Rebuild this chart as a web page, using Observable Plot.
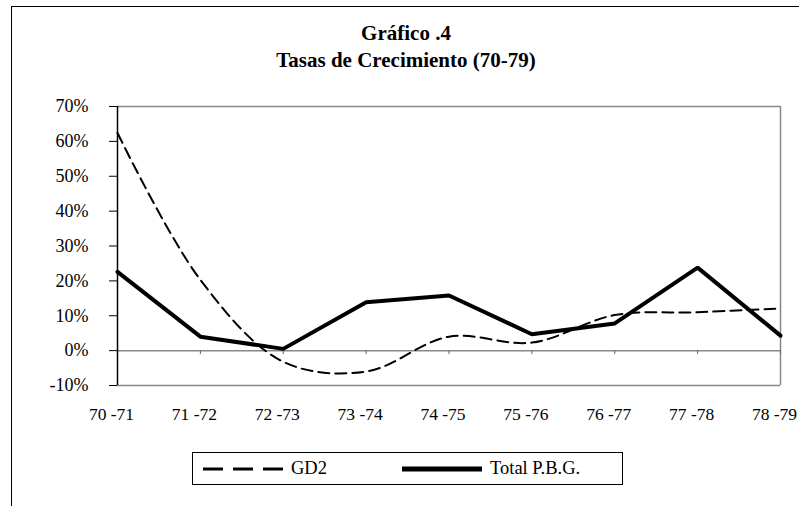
<!DOCTYPE html>
<html>
<head>
<meta charset="utf-8">
<script src="https://cdn.jsdelivr.net/npm/d3@7"></script>
<script src="https://cdn.jsdelivr.net/npm/@observablehq/plot@0.6"></script>
<style>
  html, body { margin: 0; padding: 0; background: #fff; }
  #wrap { position: relative; width: 799px; height: 506px; overflow: hidden; font-family: "Liberation Serif", "Times New Roman", Times, serif; }
  #frame { position: absolute; left: 11px; top: 6px; width: 800px; height: 520px; border-left: 1.5px solid #000; border-top: 1.5px solid #000; }
  #title { position: absolute; left: 0; width: 812px; top: 20px; text-align: center; font-weight: bold; font-size: 21px; line-height: 27px; color: #000; }
  #chart { position: absolute; left: 0; top: 0; }
  #legend { position: absolute; left: 192px; top: 452px; width: 429px; height: 31px; border: 1px solid #000; box-sizing: content-box; font-size: 18.5px; }
  .item { position: absolute; top: 0; height: 31px; display: flex; align-items: center; }
  .item svg { margin-right: 8px; }
</style>
</head>
<body>
<div id="wrap">
  <div id="frame"></div>
  <div id="chart"></div>
  <div id="title">Gráfico .4<br>Tasas de Crecimiento (70-79)</div>
  <div id="legend"></div>
</div>
<script>
const periods = ["70 -71", "71 -72", "72 -73", "73 -74", "74 -75", "75 -76", "76 -77", "77 -78", "78 -79"];
const gd2 = [62.4, 20.3, -3.2, -6.0, 4.0, 2.3, 10.2, 11.0, 12.1];
const totalPBG = [22.6, 4.0, 0.5, 13.9, 15.8, 4.7, 7.8, 23.8, 4.3];
const yTicks = [-10, 0, 10, 20, 30, 40, 50, 60, 70];
const seriesNames = ["GD2", "Total P.B.G."];

const rows = [];
periods.forEach((p, i) => {
  rows.push({period: p, value: gd2[i], series: seriesNames[0]});
  rows.push({period: p, value: totalPBG[i], series: seriesNames[1]});
});
const gdRows = rows.filter(d => d.series === seriesNames[0]);
const totRows = rows.filter(d => d.series === seriesNames[1]);
const fontStack = "'Liberation Serif', 'Times New Roman', Times, serif";

const plot = Plot.plot({
  width: 799,
  height: 506,
  marginLeft: 117,
  marginRight: 19,
  marginTop: 106,
  marginBottom: 121,
  style: {fontFamily: fontStack, fontSize: "18px", color: "#000", background: "transparent", overflow: "visible"},
  x: {type: "point", domain: periods, padding: 0, round: false, label: null},
  y: {domain: [-10, 70], label: null},
  marks: [
    Plot.ruleY([yTicks[0], yTicks[yTicks.length - 1]], {stroke: "#888", strokeWidth: 1.5}),
    Plot.ruleX([periods[periods.length - 1]], {x: d => d, stroke: "#888", strokeWidth: 1.5}),
    Plot.ruleY([0], {stroke: "#888", strokeWidth: 1.5}),
    Plot.ruleX(periods, {x: d => d, y1: 0, y2: 0, insetBottom: -4, stroke: "#666", strokeWidth: 1}),
    Plot.ruleX([periods[0]], {x: d => d, stroke: "#000", strokeWidth: 1.5}),
    Plot.axisY({ticks: yTicks, tickSize: 8, tickPadding: 21, tickFormat: d => d + "%", stroke: "#000", fontSize: 18, label: null}),
    Plot.axisX({tickSize: 0, tickPadding: 22, fontSize: 17.5, dx: -6, label: null}),
    Plot.line(gdRows, {x: "period", y: "value", curve: "catmull-rom", stroke: "#000", strokeWidth: 2, strokeDasharray: "11,6"}),
    Plot.line(totRows, {x: "period", y: "value", stroke: "#000", strokeWidth: 4, strokeLinejoin: "miter"})
  ]
});
document.getElementById("chart").appendChild(plot);

const legend = document.getElementById("legend");
const items = [
  {name: seriesNames[0], left: 10, dash: "20,10", w: 3},
  {name: seriesNames[1], left: 209, dash: null, w: 5}
];
items.forEach(it => {
  const div = document.createElement("div");
  div.className = "item";
  div.style.left = it.left + "px";
  div.innerHTML = `<svg width="80" height="10"><line x1="0" x2="80" y1="5" y2="5" stroke="#000" stroke-width="${it.w}" ${it.dash ? `stroke-dasharray="${it.dash}"` : ""}/></svg><span>${it.name}</span>`;
  legend.appendChild(div);
});
</script>
</body>
</html>
